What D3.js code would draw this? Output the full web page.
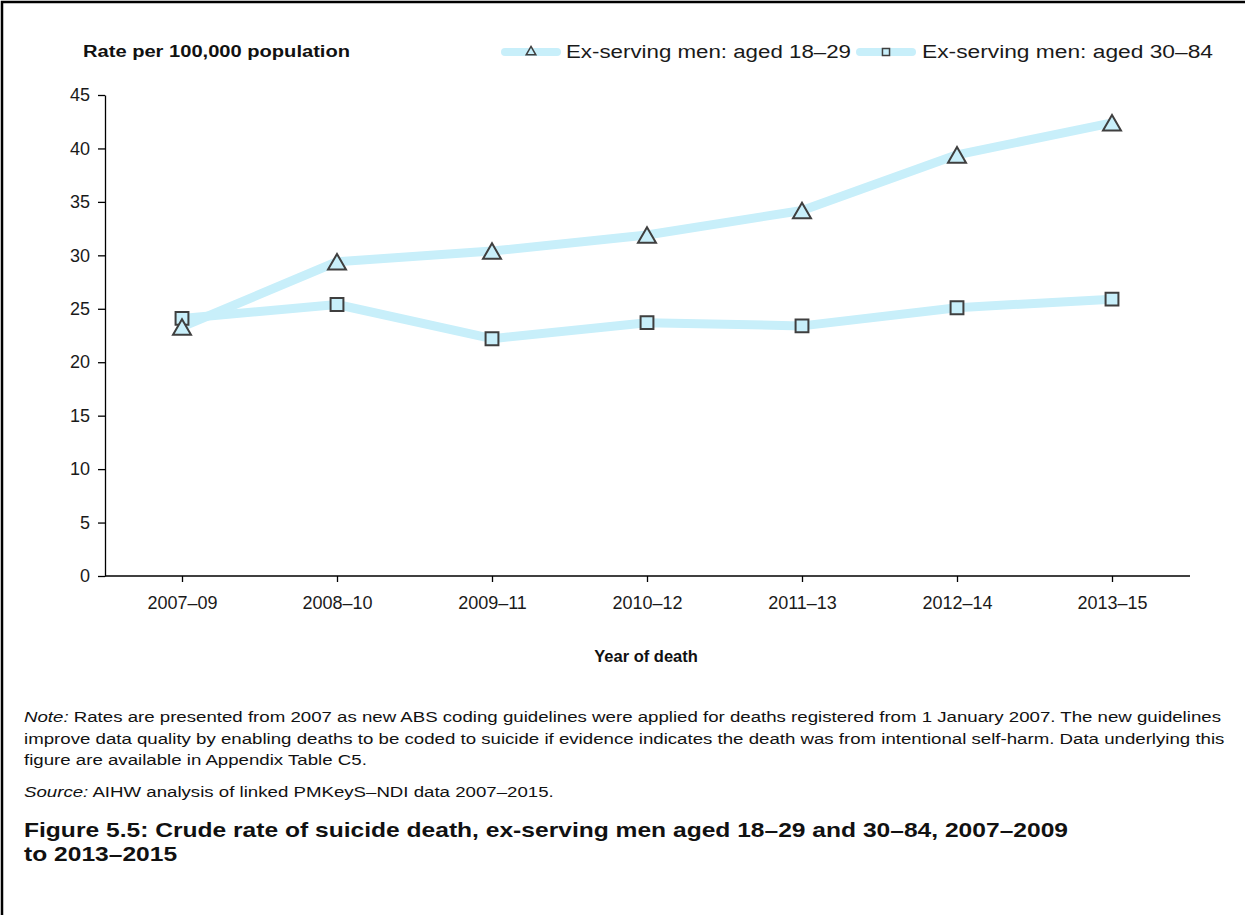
<!DOCTYPE html>
<html><head><meta charset="utf-8">
<script src="https://cdn.jsdelivr.net/npm/d3@7"></script>
<style>body{margin:0;background:#fff;}svg{display:block;font-family:Arial,"Liberation Sans",sans-serif;}</style>
</head><body>
<svg id="c" width="1245" height="915"></svg>
<script>
const categories = ["2007–09","2008–10","2009–11","2010–12","2011–13","2012–14","2013–15"];
const young = [23.3, 29.4, 30.4, 31.9, 34.2, 39.4, 42.4];
const older = [24.1, 25.4, 22.2, 23.7, 23.4, 25.1, 25.9];
const seriesNames = ["Ex-serving men: aged 18–29","Ex-serving men: aged 30–84"];
const yTicks = [0,5,10,15,20,25,30,35,40,45];

const svg = d3.select("#c");
const lineCol = "#c8effa", markFill = "#c8effa", markStroke = "#3f3f3f";
const FONT = "Arial, 'Liberation Sans', sans-serif";

// frame (top and left)
svg.append("path").attr("d","M2,915 L2,2 L1245,2").attr("fill","none").attr("stroke","#000").attr("stroke-width",2.5);

const x = d3.scalePoint().domain(categories).range([182,1112]);
const y = d3.scaleLinear().domain([0,45]).range([576,95]);

// axes
const gy = svg.append("g").attr("transform","translate(105,0)")
  .call(d3.axisLeft(y).tickValues(yTicks).tickSize(7).tickSizeOuter(0).tickPadding(8));
gy.select(".domain").attr("stroke","#000").attr("stroke-width",1.3);
gy.selectAll(".tick line").attr("stroke","#000").attr("stroke-width",1.3);
gy.selectAll(".tick text").attr("font-size",18).attr("fill","#1a1a1a").attr("font-family",FONT);

const gx = svg.append("g").attr("transform","translate(0,576)")
  .call(d3.axisBottom(x).tickSize(6).tickSizeOuter(0).tickPadding(14));
gx.select(".domain").attr("d","M105,0H1190").attr("stroke","#000").attr("stroke-width",1.3);
gx.selectAll(".tick line").attr("stroke","#000").attr("stroke-width",1.3);
gx.selectAll(".tick text").attr("font-size",18).attr("fill","#1a1a1a").attr("font-family",FONT);

// titles
svg.append("text").attr("x",83).attr("y",57).attr("font-size",16).attr("font-weight","bold").attr("fill","#111")
  .attr("textLength",267).attr("lengthAdjust","spacingAndGlyphs").text("Rate per 100,000 population");
svg.append("text").attr("x",646).attr("y",662).attr("text-anchor","middle").attr("font-size",16.5).attr("font-weight","bold").attr("fill","#111").text("Year of death");

// lines
const line = d3.line().x((d,i)=>x(categories[i])).y(d=>y(d));
[young, older].forEach(s=>{
  svg.append("path").datum(s).attr("d",line).attr("fill","none").attr("stroke",lineCol).attr("stroke-width",9).attr("stroke-linejoin","round").attr("stroke-linecap","round");
});

const triSize = 140, triOff = Math.sqrt(triSize/(Math.sqrt(3)*3))/2;
const tri = d3.symbol().type(d3.symbolTriangle).size(triSize);
const sq = d3.symbol().type(d3.symbolSquare).size(165);
svg.append("g").selectAll("path").data(older).join("path")
  .attr("d",sq).attr("transform",(d,i)=>`translate(${x(categories[i])},${y(d)})`)
  .attr("fill",markFill).attr("stroke",markStroke).attr("stroke-width",2);
svg.append("g").selectAll("path").data(young).join("path")
  .attr("d",tri).attr("transform",(d,i)=>`translate(${x(categories[i])},${y(d)+triOff})`)
  .attr("fill",markFill).attr("stroke",markStroke).attr("stroke-width",2);

// legend
const leg = [{x0:505, tx:566, w:285, name:seriesNames[0], sym:d3.symbol().type(d3.symbolTriangle).size(40)},
             {x0:860, tx:922, w:291, name:seriesNames[1], sym:d3.symbol().type(d3.symbolSquare).size(50)}];
leg.forEach(l=>{
  svg.append("line").attr("x1",l.x0).attr("x2",l.x0+52).attr("y1",52).attr("y2",52).attr("stroke",lineCol).attr("stroke-width",8).attr("stroke-linecap","round");
  svg.append("path").attr("d",l.sym).attr("transform",`translate(${l.x0+26},52)`).attr("fill",markFill).attr("stroke",markStroke).attr("stroke-width",1.5);
  svg.append("text").attr("x",l.tx).attr("y",58).attr("font-size",18).attr("fill","#1a1a1a").attr("textLength",l.w).attr("lengthAdjust","spacingAndGlyphs").text(l.name);
});

// notes: stretch all lines by the same factor as the full-width first line
const notes = svg.append("g").attr("font-size",15.5).attr("fill","#111");
const n1 = notes.append("text").attr("x",24).attr("y",722);
n1.append("tspan").attr("font-style","italic").text("Note:");
n1.append("tspan").text(" Rates are presented from 2007 as new ABS coding guidelines were applied for deaths registered from 1 January 2007. The new guidelines");
const n2 = notes.append("text").attr("x",24).attr("y",744).text("improve data quality by enabling deaths to be coded to suicide if evidence indicates the death was from intentional self-harm. Data underlying this");
const n3 = notes.append("text").attr("x",24).attr("y",765).text("figure are available in Appendix Table C5.");
const s1 = notes.append("text").attr("x",24).attr("y",797);
s1.append("tspan").attr("font-style","italic").text("Source:");
s1.append("tspan").text(" AIHW analysis of linked PMKeyS–NDI data 2007–2015.");
const k = 1197 / n1.node().getComputedTextLength();
[n1,n2,n3,s1].forEach(t=>{
  const w = t.node().getComputedTextLength();
  t.attr("textLength", w*k).attr("lengthAdjust","spacingAndGlyphs");
});

const ft = svg.append("g").attr("font-size",20.5).attr("font-weight","bold").attr("fill","#111");
const t1 = ft.append("text").attr("x",24).attr("y",837).text("Figure 5.5: Crude rate of suicide death, ex-serving men aged 18–29 and 30–84, 2007–2009");
const t2 = ft.append("text").attr("x",24).attr("y",861).text("to 2013–2015");
const kt = 1044 / t1.node().getComputedTextLength();
[t1,t2].forEach(t=>{
  const w = t.node().getComputedTextLength();
  t.attr("textLength", w*kt).attr("lengthAdjust","spacingAndGlyphs");
});
</script>
</body></html>
